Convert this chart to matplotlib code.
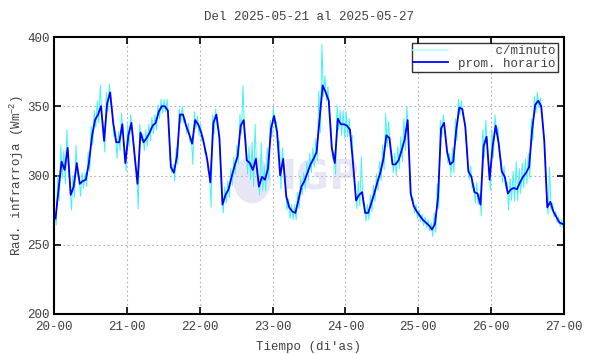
import numpy as np
import matplotlib
matplotlib.use("Agg")
import matplotlib.pyplot as plt
from matplotlib.patches import Ellipse

plt.rcParams['font.family'] = ['Liberation Mono', 'DejaVu Sans Mono']
plt.rcParams['mathtext.fontset'] = 'custom'
plt.rcParams['mathtext.rm'] = 'Liberation Mono'
plt.rcParams['mathtext.it'] = 'Liberation Mono'

# promedio horario (Wm-2), 7 dias x 24 horas desde 2025-05-20 00h
prom_horario = [
    269, 290, 310, 304, 320, 286, 292, 309, 294, 296, 297, 309, 328, 340, 344, 350, 325, 352, 360, 338, 324, 324, 337, 309,
    329, 338, 316, 294, 331, 324, 327, 331, 336, 338, 346, 350, 350, 347, 306, 302, 314, 344, 344, 336, 330, 323, 340, 337,
    331, 322, 311, 295, 338, 344, 327, 279, 286, 290, 299, 307, 314, 336, 340, 311, 309, 304, 312, 292, 299, 297, 305, 334,
    343, 331, 300, 312, 285, 277, 274, 273, 282, 292, 296, 302, 308, 312, 317, 341, 365, 360, 354, 320, 309, 341, 337, 337,
    336, 333, 309, 282, 286, 288, 273, 273, 280, 287, 295, 302, 312, 329, 327, 308, 308, 311, 318, 326, 340, 287, 278, 274,
    271, 268, 266, 264, 261, 265, 284, 334, 338, 317, 308, 310, 333, 349, 348, 335, 303, 299, 288, 287, 279, 321, 328, 297,
    321, 336, 323, 303, 299, 287, 290, 291, 290, 295, 299, 302, 306, 333, 351, 354, 350, 325, 277, 281, 274, 270, 266, 265,
]

# dispersion de los datos por minuto dentro de cada hora (sobre / bajo el promedio)
min_sobre = [
    4, 10, 12, 14, 13, 8, 8, 13, 6, 6, 5, 8, 8, 7, 10, 15, 10, 8, 6, 8, 8, 8, 8, 10,
    8, 6, 8, 8, 6, 6, 6, 6, 6, 6, 5, 5, 5, 8, 6, 6, 6, 4, 6, 5, 8, 4, 6, 6,
    6, 6, 6, 6, 6, 4, 6, 6, 6, 6, 6, 6, 8, 8, 25, 15, 12, 20, 25, 8, 25, 10, 15, 6,
    6, 8, 25, 8, 8, 6, 5, 6, 6, 6, 6, 8, 8, 8, 10, 20, 30, 12, 10, 15, 8, 10, 10, 10,
    10, 8, 20, 10, 10, 25, 6, 6, 6, 6, 6, 8, 10, 16, 12, 8, 8, 10, 10, 15, 10, 8, 6, 5,
    4, 4, 4, 4, 5, 8, 10, 6, 6, 8, 8, 10, 8, 6, 6, 5, 8, 8, 6, 8, 8, 12, 12, 10,
    12, 8, 12, 8, 8, 8, 8, 12, 20, 10, 10, 10, 10, 8, 6, 6, 6, 8, 8, 25, 6, 4, 4, 3,
]
min_bajo = [
    5, 8, 12, 10, 15, 11, 8, 10, 9, 5, 5, 6, 6, 5, 6, 6, 8, 6, 8, 10, 12, 6, 8, 6,
    8, 6, 8, 18, 6, 6, 6, 6, 6, 5, 5, 5, 4, 5, 4, 6, 6, 6, 6, 6, 6, 15, 6, 8,
    6, 6, 8, 18, 8, 8, 12, 6, 6, 6, 6, 6, 6, 6, 8, 10, 12, 12, 10, 6, 10, 8, 8, 6,
    6, 8, 10, 8, 10, 8, 6, 5, 6, 6, 6, 6, 6, 6, 6, 10, 8, 6, 8, 8, 8, 8, 8, 10,
    8, 8, 10, 6, 8, 8, 6, 5, 6, 6, 6, 6, 8, 8, 8, 6, 8, 6, 8, 8, 10, 5, 5, 5,
    4, 4, 4, 4, 5, 6, 8, 6, 6, 8, 8, 8, 8, 5, 5, 8, 6, 8, 8, 8, 8, 8, 8, 8,
    8, 6, 8, 8, 8, 12, 8, 10, 8, 8, 8, 8, 8, 8, 6, 5, 8, 8, 5, 6, 4, 4, 3, 3,
]

dias = [20, 21, 22, 23, 24, 25, 26, 27]
etiquetas_x = ['20-00', '21-00', '22-00', '23-00', '24-00', '25-00', '26-00', '27-00']
ticks_y = [200, 250, 300, 350, 400]

prom = np.array(prom_horario, dtype=float)
horas = np.arange(len(prom))
t_prom = 20 + (horas + 0.5) / 24.0

# serie c/minuto: alterna entre el maximo y minimo de cada hora
t_min = np.ravel(np.column_stack([20 + (horas + 0.25) / 24.0, 20 + (horas + 0.75) / 24.0]))
v_min = np.ravel(np.column_stack([prom + np.array(min_sobre), prom - np.array(min_bajo)]))

txt_col = '#404040'

fig = plt.figure(figsize=(5.9, 3.54), dpi=100)
ax = fig.add_axes([54 / 590, 40 / 354, 510 / 590, 277 / 354])

# marca de agua (logo)
logo_col = '#e6e6f6'
ax.add_patch(Ellipse((22.72, 297), 0.5, 33, color=logo_col, zorder=0))
ax.text(23.12, 298, 'IGP', fontsize=29, fontweight='bold', family='DejaVu Sans',
        color=logo_col, va='center', ha='left', zorder=0)

ax.plot(t_min, v_min, color='#3ff5f5', lw=0.7, label='     c/minuto', zorder=2)
ax.plot(t_prom, prom, color='#0000ff', lw=1.3, label='prom. horario', zorder=3)

ax.set_xlim(20, 27)
ax.set_ylim(200, 400)
ax.set_xticks(dias)
ax.set_xticklabels(etiquetas_x)
ax.set_yticks(ticks_y)
ax.grid(True, color='#b0b0b0', ls=(0, (1.5, 2.5)), lw=0.8)
ax.tick_params(direction='in', length=5, width=1.2, top=True, right=True,
               labelsize=9, labelcolor=txt_col)
ax.tick_params(axis='y', pad=3)
ax.tick_params(axis='x', pad=5)
for s in ax.spines.values():
    s.set_linewidth(1.5)

ax.set_title('Del 2025-05-21 al 2025-05-27', fontsize=9, color=txt_col, pad=12)
ax.set_xlabel("Tiempo (di'as)", fontsize=9, color=txt_col, labelpad=6)
ax.set_ylabel(r'Rad. infrarroja (Wm$^{-2}$)', fontsize=9, color=txt_col, labelpad=1)

leg = ax.legend(loc='upper right', fontsize=9, frameon=True, fancybox=False,
                handlelength=2.8, borderpad=0.15, labelspacing=0.05, handletextpad=0.8,
                borderaxespad=0.5)
leg.get_frame().set_edgecolor('black')
leg.get_frame().set_linewidth(1.0)
leg.legend_handles[0].set_linewidth(1.1)
leg.legend_handles[0].set_color('#a8ffff')
for txt in leg.get_texts():
    txt.set_color(txt_col)

fig.savefig('out.png', dpi=100)
